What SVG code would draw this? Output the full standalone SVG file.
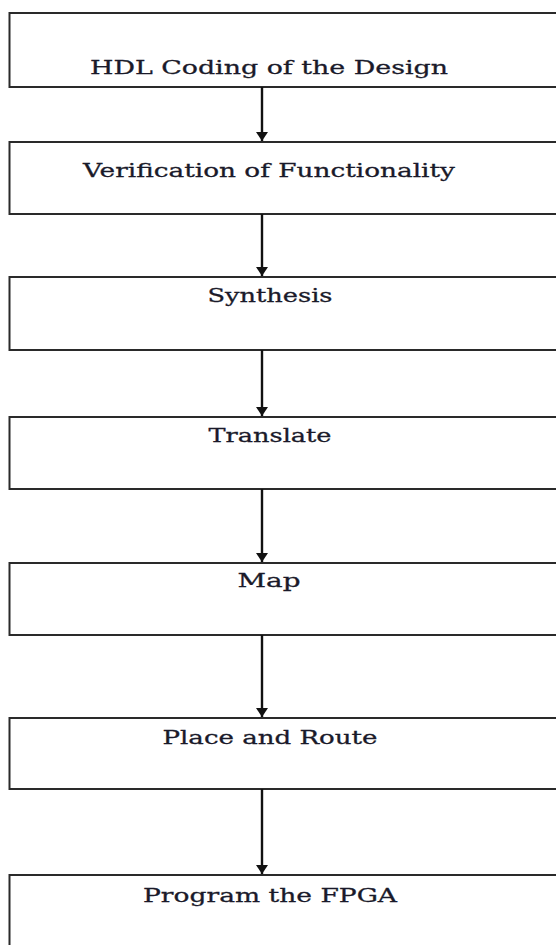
<svg xmlns="http://www.w3.org/2000/svg" width="556" height="945" viewBox="0 0 556 945">
<style>
.box{fill:#fff;stroke:#2a2a2a;stroke-width:2}
.lbl{font-family:"DejaVu Serif","Liberation Serif",serif;font-size:19px;fill:#1a1a2a;stroke:#1a1a2a;stroke-width:0.3;text-anchor:middle}
.con{stroke:#111;stroke-width:2.4;fill:none}
</style>
<defs>
<marker id="ah" viewBox="0 0 9 12" refX="9" refY="6" markerWidth="9" markerHeight="12" markerUnits="userSpaceOnUse" orient="auto">
<path d="M0,0 L9,6 L0,12 Z" fill="#111"/>
</marker>
</defs>
<rect width="556" height="945" fill="#fff"/>
<g id="n1"><rect class="box" x="9.5" y="13" width="600" height="74"/><text class="lbl" x="269" y="74" textLength="358" lengthAdjust="spacingAndGlyphs">HDL Coding of the Design</text></g>
<g id="n2"><rect class="box" x="9.5" y="142" width="600" height="72"/><text class="lbl" x="269" y="177" textLength="372" lengthAdjust="spacingAndGlyphs">Verification of Functionality</text></g>
<g id="n3"><rect class="box" x="9.5" y="277" width="600" height="73"/><text class="lbl" x="270" y="302" textLength="125" lengthAdjust="spacingAndGlyphs">Synthesis</text></g>
<g id="n4"><rect class="box" x="9.5" y="417" width="600" height="72"/><text class="lbl" x="270" y="442" textLength="123" lengthAdjust="spacingAndGlyphs">Translate</text></g>
<g id="n5"><rect class="box" x="9.5" y="563" width="600" height="72"/><text class="lbl" x="269" y="587" textLength="63" lengthAdjust="spacingAndGlyphs">Map</text></g>
<g id="n6"><rect class="box" x="9.5" y="718" width="600" height="71"/><text class="lbl" x="270" y="744" textLength="215" lengthAdjust="spacingAndGlyphs">Place and Route</text></g>
<g id="n7"><rect class="box" x="9.5" y="875" width="600" height="100"/><text class="lbl" x="270" y="902" textLength="254" lengthAdjust="spacingAndGlyphs">Program the FPGA</text></g>
<g id="connectors">
<line class="con" x1="262" y1="87" x2="262" y2="141" marker-end="url(#ah)"/>
<line class="con" x1="262" y1="214" x2="262" y2="276" marker-end="url(#ah)"/>
<line class="con" x1="262" y1="350" x2="262" y2="416" marker-end="url(#ah)"/>
<line class="con" x1="262" y1="489" x2="262" y2="562" marker-end="url(#ah)"/>
<line class="con" x1="262" y1="635" x2="262" y2="717" marker-end="url(#ah)"/>
<line class="con" x1="262" y1="789" x2="262" y2="874" marker-end="url(#ah)"/>
</g>
</svg>
